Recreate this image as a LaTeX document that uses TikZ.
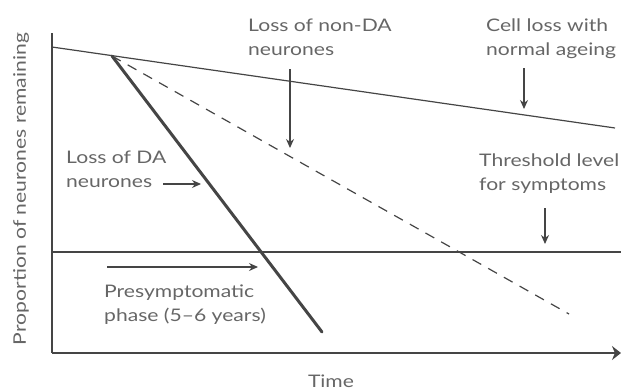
\documentclass[tikz,border=0pt]{standalone}
\usepackage{fontspec}
\setmainfont{Lato}[FakeStretch=1.22]
\usetikzlibrary{arrows.meta}
\definecolor{ln}{HTML}{454545}
\definecolor{tx}{HTML}{666666}
\begin{document}
\begin{tikzpicture}[x=1pt,y=-1pt,
  lbl/.style={font=\fontsize{17.3}{23.5}\selectfont, text=tx, align=left, inner sep=0pt, anchor=north west},
  axis/.style={draw=ln, line width=1.4pt},
  curve/.style={draw=ln, line width=1.2pt},
  thick curve/.style={draw=ln, line width=3pt},
  dash curve/.style={draw=ln, line width=1.2pt, dash pattern=on 10pt off 8pt},
  pointer/.style={draw=ln, line width=1.2pt, -{Stealth[length=9pt,width=8pt]}}]
\useasboundingbox (0,0) rectangle (621,391);
% coordinates
\coordinate (origin) at (52,353);
\coordinate (ytop) at (52,33);
\coordinate (xend) at (621,353);
\coordinate (agestart) at (52,47);
\coordinate (ageend) at (615,128);
\coordinate (onset) at (112,56);
\coordinate (daend) at (322,332);
\coordinate (nondaend) at (569,314);
\coordinate (thstart) at (52,252);
\coordinate (thend) at (621,252);
% axes
\draw[axis] (ytop) -- (origin);
\draw[axis, -{Stealth[length=9pt,width=14pt]}] (origin) -- (xend);
% curves
\draw[curve] (agestart) -- (ageend);
\draw[curve] (thstart) -- (thend);
\draw[dash curve] (onset) -- (nondaend);
\draw[thick curve, line cap=round] (onset) -- (daend);
% labels
\node[lbl] (nonda) at (248,19) {Loss of non-DA\\neurones};
\node[lbl] (ageing) at (486,19) {Cell loss with\\normal ageing};
\node[lbl] (thresh) at (479,154) {Threshold level\\for symptoms};
\node[lbl] (da) at (66,151) {Loss of DA\\neurones};
\node[lbl] (presym) at (104,285) {Presymptomatic\\phase (5--6 years)};
\node[lbl, anchor=north] (time) at (331,375) {Time};
\node[lbl, anchor=center, rotate=90] (ylab) at (21,189) {Proportion of neurones remaining};
% pointer arrows
\coordinate (p1s) at (290,69);  \coordinate (p1e) at (290,148);
\coordinate (p2s) at (524,68);  \coordinate (p2e) at (524,109);
\coordinate (p3s) at (545,208); \coordinate (p3e) at (545,244);
\coordinate (p4s) at (163,184); \coordinate (p4e) at (201,184);
\coordinate (p5s) at (107,267); \coordinate (p5e) at (258,267);
\draw[pointer] (p1s) -- (p1e);
\draw[pointer] (p2s) -- (p2e);
\draw[pointer] (p3s) -- (p3e);
\draw[pointer] (p4s) -- (p4e);
\draw[pointer] (p5s) -- (p5e);
\end{tikzpicture}
\end{document}
